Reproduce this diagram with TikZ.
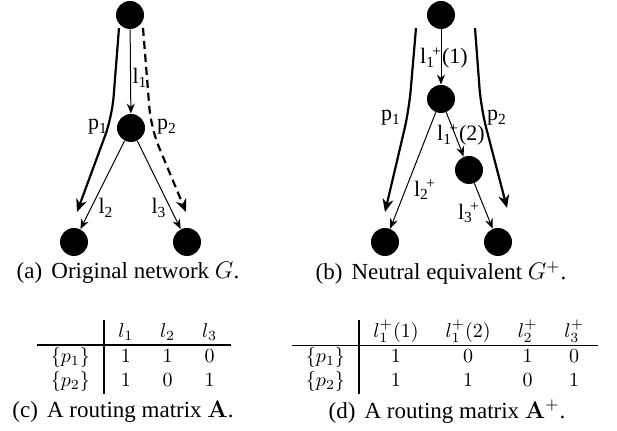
\documentclass[tikz,border=0pt]{standalone}
\usepackage[no-math]{fontspec}
\setmainfont{Liberation Serif}
\usepackage{array}
\usetikzlibrary{arrows.meta}

% link labels with sub- and superscript
\newcommand{\lk}[2]{l\textsubscript{#1}\kern-0.12em\textsuperscript{#2}}

\begin{document}
\begin{tikzpicture}[x=0.5pt, y=-0.5pt,
    router/.style={circle, fill=black, minimum size=14pt, inner sep=0pt},
    link/.style={-{Stealth[length=5pt, width=4pt]}, line width=0.5pt},
    route/.style={-{Stealth[length=6.5pt, width=5.5pt]}, line width=1.1pt, rounded corners=10pt},
    lbl/.style={inner sep=0pt, font=\fontsize{11}{13}\selectfont},
    capt/.style={inner sep=0pt, font=\fontsize{11.5}{14}\selectfont},
    tabl/.style={inner sep=0pt, font=\fontsize{10}{12}\selectfont}]
  \useasboundingbox (0,0) rectangle (617,431);

  % (a) original network
  \node[router] (a0) at (130,15) {};
  \node[router] (a1) at (131,128) {};
  \node[router] (a2) at (74,242) {};
  \node[router] (a3) at (187,242) {};
  \draw[link] (a0) -- (a1);
  \draw[link] (a1) -- (a2);
  \draw[link] (a1) -- (a3);
  \coordinate (ap1s) at (119,28);
  \coordinate (ap1m) at (112,117);
  \coordinate (ap1e) at (77,212);
  \coordinate (ap2s) at (143,28);
  \coordinate (ap2m) at (151,128);
  \coordinate (ap2e) at (186,212);
  \draw[route] (ap1s) -- (ap1m) -- (ap1e);
  \draw[route, dash pattern=on 4pt off 2.5pt] (ap2s) -- (ap2m) -- (ap2e);
  \node[lbl] (al1) at (140,78) {l\textsubscript{1}};
  \node[lbl] (ap1) at (98,127) {p\textsubscript{1}};
  \node[lbl] (ap2) at (167,127) {p\textsubscript{2}};
  \node[lbl] (al2) at (106,208) {l\textsubscript{2}};
  \node[lbl] (al3) at (159,208) {l\textsubscript{3}};
  \node[capt] (capa) at (128,273) {(a)\hspace{0.4em}Original network $G$.};

  % (b) neutral equivalent
  \node[router] (b0) at (441,15) {};
  \node[router] (b1) at (441,99) {};
  \node[router] (b2) at (469,170) {};
  \node[router] (b3) at (385,242) {};
  \node[router] (b4) at (498,242) {};
  \draw[link] (b0) -- (b1);
  \draw[link] (b1) -- (b2);
  \draw[link] (b1) -- (b3);
  \draw[link] (b2) -- (b4);
  \coordinate (bp1s) at (416,28);
  \coordinate (bp1m) at (409,110);
  \coordinate (bp1e) at (385,212);
  \coordinate (bp2s) at (475,28);
  \coordinate (bp2m) at (481,108);
  \coordinate (bp2e) at (507,208);
  \draw[route] (bp1s) -- (bp1m) -- (bp1e);
  \draw[route] (bp2s) -- (bp2m) -- (bp2e);
  \node[lbl] (bl11) at (444,58) {\lk{1}{+}(1)};
  \node[lbl] (bl12) at (461,135) {\lk{1}{+}(2)};
  \node[lbl] (bl2) at (425,190) {\lk{2}{+}};
  \node[lbl] (bl3) at (469,213) {\lk{3}{+}};
  \node[lbl] (bp1) at (391,118) {p\textsubscript{1}};
  \node[lbl] (bp2) at (497,118) {p\textsubscript{2}};
  \node[capt] (capb) at (441,273) {(b)\hspace{0.4em}Neutral equivalent $G^+$.};

  % (c) and (d) routing matrices
  \node[tabl] (tA) at (134,357) {\setlength{\tabcolsep}{6.75pt}\setlength{\arrayrulewidth}{0.7pt}%
    \begin{tabular}{c|ccc}
      & $l_1$ & $l_2$ & $l_3$\\ \hline
      $\{p_1\}$ & $1$ & $1$ & $0$\\
      $\{p_2\}$ & $1$ & $0$ & $1$
    \end{tabular}};
  \node[capt] (capc) at (123,412) {(c)\hspace{0.4em}A routing matrix $\mathbf{A}$.};

  \node[tabl] (tAp) at (445,357) {\setlength{\tabcolsep}{6.75pt}\setlength{\arrayrulewidth}{0.7pt}%
    \begin{tabular}{c|cccc}
      & $l_1^+(1)$ & $l_1^+(2)$ & $l_2^+$ & $l_3^+$\\ \hline
      $\{p_1\}$ & $1$ & $0$ & $1$ & $0$\\
      $\{p_2\}$ & $1$ & $1$ & $0$ & $1$
    \end{tabular}};
  \node[capt] (capd) at (447,412) {(d)\hspace{0.4em}A routing matrix $\mathbf{A}^+$.};
\end{tikzpicture}
\end{document}
